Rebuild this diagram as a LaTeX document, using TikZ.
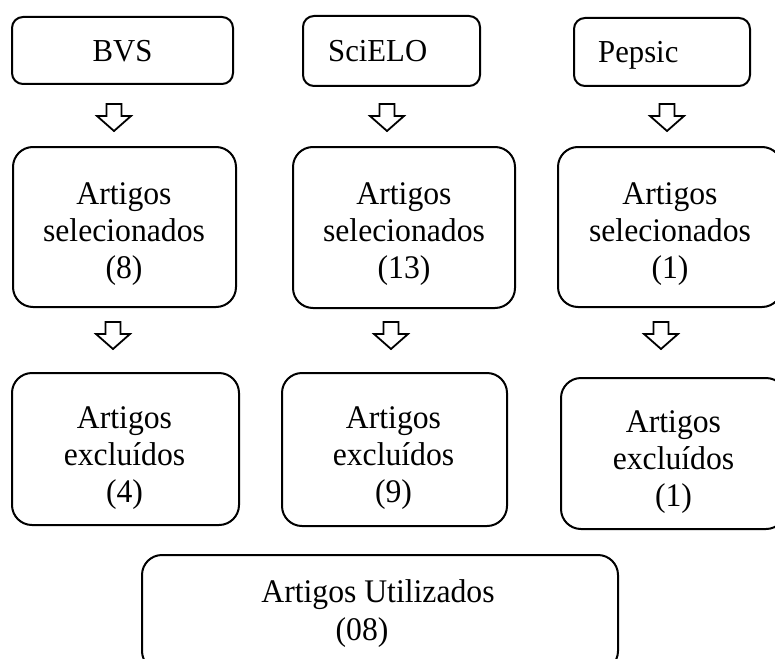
\documentclass[tikz,border=0pt]{standalone}
\usepackage{fontspec}
\setmainfont{Liberation Serif}[FakeStretch=0.96]
\begin{document}
\begin{tikzpicture}[x=1pt,y=-1pt,
  box/.style={draw, line width=2pt, rounded corners=20pt, inner sep=0pt},
  topbox/.style={box, rounded corners=11pt},
  txt/.style={font=\fontsize{33}{37}\selectfont, align=center, inner sep=0pt},
  toptxt/.style={font=\fontsize{32}{37}\selectfont, inner sep=0pt, text height=21pt, text depth=0pt},
  darrow/.pic={\draw[line width=1.8pt, line join=miter]
     (-7.5,0) -- (7.5,0) -- (7.5,12) -- (17,12) -- (0,27) -- (-17,12) -- (-7.5,12) -- cycle;}
]
\useasboundingbox (0,0) rectangle (775,658);
\clip (0,0) rectangle (775,658);

% row 1
\node[topbox, minimum width=221pt, minimum height=67pt] (bvs) at (122.5,50.5) {};
\node[toptxt] (bvs-t) at (122.5,51.5) {BVS};
\node[topbox, minimum width=177pt, minimum height=70pt] (sci) at (391.5,51) {};
\node[toptxt, anchor=west] (sci-t) at (328,51.5) {SciELO};
\node[topbox, minimum width=176pt, minimum height=68pt] (pep) at (662,52) {};
\node[toptxt, anchor=west] (pep-t) at (598,52.5) {Pepsic};

% arrows row 1 -> row 2
\coordinate (a1) at (114,104);
\coordinate (a2) at (387,104);
\coordinate (a3) at (667,104);
\pic at (a1) {darrow};
\pic at (a2) {darrow};
\pic at (a3) {darrow};

% row 2
\node[box, minimum width=223pt, minimum height=160pt] (bvs2) at (124.5,227) {};
\node[txt] (bvs2-t) at (124,234) {Artigos\\selecionados\\(8)};
\node[box, minimum width=222pt, minimum height=161pt] (sci2) at (404,227.5) {};
\node[txt] (sci2-t) at (404,234) {Artigos\\selecionados\\(13)};
\node[box, minimum width=224pt, minimum height=160pt] (pep2) at (670,227) {};
\node[txt] (pep2-t) at (670,234) {Artigos\\selecionados\\(1)};

% arrows row 2 -> row 3
\coordinate (b1) at (113,322);
\coordinate (b2) at (391,322);
\coordinate (b3) at (661,322);
\pic at (b1) {darrow};
\pic at (b2) {darrow};
\pic at (b3) {darrow};

% row 3
\node[box, minimum width=227pt, minimum height=152pt] (bvs3) at (125.5,449) {};
\node[txt] (bvs3-t) at (124.5,458) {Artigos\\excluídos\\(4)};
\node[box, minimum width=225pt, minimum height=153pt] (sci3) at (394.5,449.5) {};
\node[txt] (sci3-t) at (393.5,458) {Artigos\\excluídos\\(9)};
\node[box, minimum width=225pt, minimum height=151pt] (pep3) at (673.5,453.5) {};
\node[txt] (pep3-t) at (673.5,462) {Artigos\\excluídos\\(1)};

% final
\node[box, minimum width=476pt, minimum height=116pt] (fin) at (380,613) {};
\node[txt, font=\fontsize{33}{38}\selectfont] (fin-t) at (378,613.5) {Artigos Utilizados\\(08)\hspace*{32pt}};
\end{tikzpicture}
\end{document}
